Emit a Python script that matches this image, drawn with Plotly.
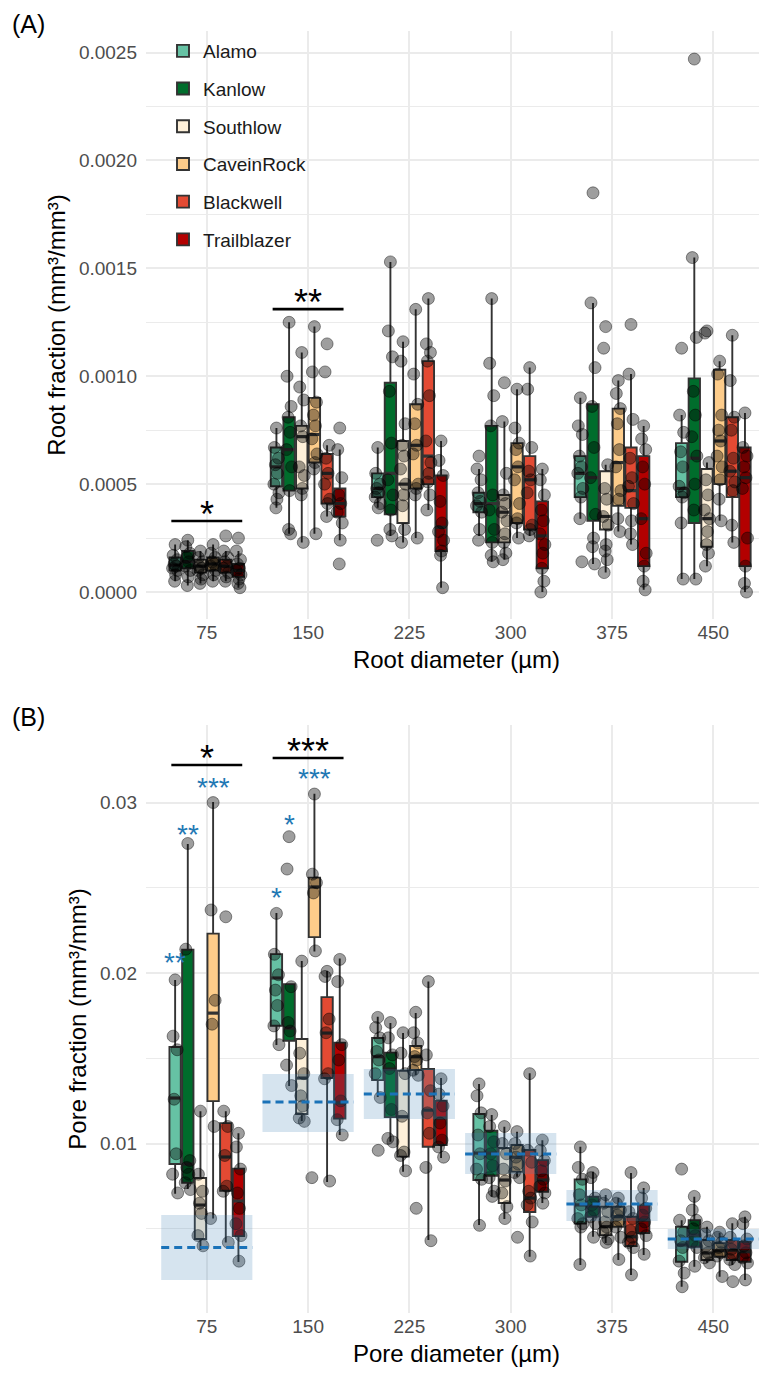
import plotly.graph_objects as go

# ---------------- data ----------------
cultivars = ["Alamo", "Kanlow", "Southlow", "CaveinRock", "Blackwell", "Trailblazer"]
colors = ["#66c2a4", "#006d2c", "#fef0d9", "#fdcc8a", "#e34a33", "#b30000"]
diam_labels = ["75", "150", "225", "300", "375", "450"]

# Panel A: root fraction box statistics [cultivar][diameter]
root_q1 = [
    [0.00010, 0.00049, 0.00044, 0.00037, 0.00044, 0.00044],
    [0.00011, 0.00047, 0.00036, 0.00023, 0.00033, 0.00032],
    [0.00009, 0.00048, 0.00032, 0.00023, 0.00029, 0.00021],
    [0.00010, 0.00060, 0.00048, 0.00032, 0.00040, 0.00050],
    [0.00009, 0.00041, 0.00050, 0.00029, 0.00039, 0.00044],
    [0.00007, 0.00035, 0.00019, 0.00011, 0.00012, 0.00012],
]
root_med = [
    [0.000125, 0.00058, 0.00048, 0.00041, 0.00055, 0.00048],
    [0.00014, 0.00066, 0.00055, 0.00041, 0.00053, 0.00062],
    [0.00012, 0.00072, 0.00050, 0.00037, 0.00035, 0.00034],
    [0.00013, 0.00073, 0.00068, 0.00058, 0.00060, 0.00070],
    [0.00012, 0.00055, 0.00063, 0.00052, 0.00047, 0.00056],
    [0.00010, 0.00041, 0.00030, 0.00026, 0.00034, 0.00053],
]
root_q3 = [
    [0.00016, 0.00067, 0.00055, 0.00046, 0.00063, 0.00069],
    [0.00019, 0.00081, 0.00097, 0.00077, 0.00087, 0.00099],
    [0.00015, 0.00077, 0.00070, 0.00045, 0.00056, 0.00057],
    [0.00016, 0.00090, 0.00087, 0.00069, 0.00085, 0.00103],
    [0.00015, 0.00064, 0.00107, 0.00063, 0.00067, 0.00081],
    [0.00013, 0.00048, 0.00054, 0.00042, 0.00063, 0.00067],
]
root_lo = [
    [0.00005, 0.00039, 0.00039, 0.00026, 0.00034, 0.00006],
    [0.00003, 0.00027, 0.00026, 0.00014, 0.00013, 0.00006],
    [0.00004, 0.00023, 0.00023, 0.00015, 0.00009, 0.00012],
    [0.00005, 0.00027, 0.00025, 0.00025, 0.00028, 0.00033],
    [0.00005, 0.00035, 0.00038, 0.00026, 0.00022, 0.00023],
    [0.00002, 0.00024, 0.00002, 0.00000, 0.00001, 0.00000],
]
root_hi = [
    [0.00022, 0.00076, 0.00067, 0.00057, 0.00090, 0.00082],
    [0.00024, 0.00125, 0.00153, 0.00136, 0.00134, 0.00155],
    [0.00019, 0.00111, 0.00116, 0.00079, 0.00059, 0.00060],
    [0.00022, 0.00123, 0.00131, 0.00094, 0.00098, 0.00107],
    [0.00019, 0.00068, 0.00136, 0.00104, 0.00101, 0.00119],
    [0.00019, 0.00066, 0.00070, 0.00057, 0.00077, 0.00083],
]
root_points = [
    [  # Alamo
        [0.00022, 0.00017, 0.00015, 0.00013, 0.00012, 0.00011, 0.00010, 0.00008, 0.00005],
        [0.00076, 0.00067, 0.00062, 0.00059, 0.00055, 0.00050, 0.00046, 0.00043, 0.00039],
        [0.00067, 0.00055, 0.00050, 0.00048, 0.00046, 0.00044, 0.00041, 0.00039, 0.00024],
        [0.00063, 0.00057, 0.00052, 0.00046, 0.00042, 0.00040, 0.00037, 0.00029, 0.00024],
        [0.00090, 0.00077, 0.00073, 0.00063, 0.00058, 0.00055, 0.00048, 0.00044, 0.00034, 0.00014],
        [0.00113, 0.00082, 0.00074, 0.00065, 0.00058, 0.00049, 0.00046, 0.00044, 0.00032, 0.00006],
    ],
    [  # Kanlow
        [0.00024, 0.00021, 0.00018, 0.00016, 0.00014, 0.00012, 0.00010, 0.00007, 0.00003],
        [0.00125, 0.00100, 0.00086, 0.00081, 0.00074, 0.00066, 0.00058, 0.00047, 0.00029, 0.00027],
        [0.00153, 0.00121, 0.00109, 0.00093, 0.00069, 0.00052, 0.00045, 0.00038, 0.00029, 0.00026],
        [0.00136, 0.00106, 0.00091, 0.00077, 0.00045, 0.00038, 0.00029, 0.00023, 0.00017, 0.00014],
        [0.00185, 0.00134, 0.00104, 0.00086, 0.00067, 0.00053, 0.00036, 0.00025, 0.00021, 0.00013],
        [0.00247, 0.00155, 0.00118, 0.00093, 0.00082, 0.00072, 0.00063, 0.00050, 0.00038, 0.00006],
    ],
    [  # Southlow
        [0.00019, 0.00016, 0.00014, 0.00012, 0.00011, 0.00010, 0.00008, 0.00006, 0.00004],
        [0.00111, 0.00095, 0.00089, 0.00077, 0.00072, 0.00058, 0.00054, 0.00048, 0.00045, 0.00023],
        [0.00116, 0.00107, 0.00078, 0.00068, 0.00063, 0.00057, 0.00050, 0.00045, 0.00040, 0.00029, 0.00023],
        [0.00097, 0.00079, 0.00055, 0.00045, 0.00041, 0.00037, 0.00033, 0.00027, 0.00023, 0.00018, 0.00015],
        [0.00123, 0.00113, 0.00059, 0.00048, 0.00043, 0.00035, 0.00031, 0.00022, 0.00019, 0.00015, 0.00009],
        [0.00121, 0.00120, 0.00060, 0.00052, 0.00045, 0.00038, 0.00034, 0.00028, 0.00022, 0.00018, 0.00012],
    ],
    [  # CaveinRock
        [0.00022, 0.00018, 0.00016, 0.00014, 0.00013, 0.00012, 0.00010, 0.00008, 0.00005],
        [0.00123, 0.00102, 0.00088, 0.00082, 0.00077, 0.00071, 0.00064, 0.00060, 0.00057, 0.00027],
        [0.00131, 0.00101, 0.00087, 0.00078, 0.00068, 0.00064, 0.00050, 0.00048, 0.00045, 0.00025],
        [0.00094, 0.00076, 0.00069, 0.00066, 0.00058, 0.00052, 0.00041, 0.00034, 0.00032, 0.00025],
        [0.00098, 0.00092, 0.00085, 0.00078, 0.00066, 0.00058, 0.00047, 0.00043, 0.00034, 0.00028],
        [0.00107, 0.00101, 0.00082, 0.00075, 0.00070, 0.00063, 0.00058, 0.00052, 0.00043, 0.00033],
    ],
    [  # Blackwell
        [0.00026, 0.00019, 0.00016, 0.00014, 0.00012, 0.00011, 0.00009, 0.00007, 0.00005],
        [0.00115, 0.00102, 0.00068, 0.00062, 0.00055, 0.00050, 0.00043, 0.00041, 0.00035],
        [0.00136, 0.00115, 0.00111, 0.00107, 0.00091, 0.00070, 0.00060, 0.00055, 0.00051, 0.00045, 0.00038],
        [0.00104, 0.00094, 0.00067, 0.00056, 0.00052, 0.00046, 0.00031, 0.00029, 0.00026],
        [0.00124, 0.00101, 0.00080, 0.00062, 0.00053, 0.00049, 0.00041, 0.00033, 0.00027, 0.00022],
        [0.00119, 0.00098, 0.00081, 0.00075, 0.00062, 0.00056, 0.00051, 0.00047, 0.00031, 0.00023],
    ],
    [  # Trailblazer
        [0.00025, 0.00019, 0.00015, 0.00013, 0.00011, 0.00010, 0.00008, 0.00006, 0.00004, 0.00002],
        [0.00076, 0.00066, 0.00053, 0.00045, 0.00041, 0.00037, 0.00032, 0.00024, 0.00013],
        [0.00070, 0.00061, 0.00054, 0.00042, 0.00032, 0.00028, 0.00024, 0.00019, 0.00017, 0.00002],
        [0.00057, 0.00052, 0.00045, 0.00038, 0.00033, 0.00027, 0.00022, 0.00018, 0.00011, 0.00005, 0.0],
        [0.00077, 0.00071, 0.00066, 0.00058, 0.00050, 0.00034, 0.00018, 0.00012, 0.00005, 0.00001],
        [0.00083, 0.00067, 0.00063, 0.00058, 0.00053, 0.00048, 0.00025, 0.00012, 0.00004, 0.0],
    ],
]

# Panel B: pore fraction box statistics [cultivar][diameter]
pore_q1 = [
    [0.00880, 0.01691, 0.01372, 0.00786, 0.00530, 0.00307],
    [0.00770, 0.01603, 0.01155, 0.00811, 0.00571, 0.00395],
    [0.00440, 0.01173, 0.00923, 0.00651, 0.00463, 0.00317],
    [0.01249, 0.02211, 0.01431, 0.00835, 0.00512, 0.00336],
    [0.00723, 0.01384, 0.00981, 0.00598, 0.00399, 0.00317],
    [0.00457, 0.01146, 0.00991, 0.00717, 0.00475, 0.00307],
]
pore_med = [
    [0.01267, 0.01971, 0.01509, 0.00944, 0.00640, 0.00405],
    [0.00880, 0.01677, 0.01437, 0.00944, 0.00633, 0.00463],
    [0.00639, 0.01384, 0.01157, 0.00786, 0.00512, 0.00358],
    [0.01765, 0.02505, 0.01509, 0.00920, 0.00571, 0.00371],
    [0.00921, 0.01648, 0.01196, 0.00680, 0.00453, 0.00375],
    [0.00663, 0.01238, 0.01150, 0.00786, 0.00551, 0.00365],
]
pore_q3 = [
    [0.01566, 0.02111, 0.01619, 0.01173, 0.00790, 0.00512],
    [0.02137, 0.01935, 0.01533, 0.01075, 0.00688, 0.00551],
    [0.00798, 0.01613, 0.01427, 0.00974, 0.00629, 0.00434],
    [0.02231, 0.02560, 0.01572, 0.00991, 0.00629, 0.00416],
    [0.01120, 0.01859, 0.01437, 0.00962, 0.00571, 0.00434],
    [0.00853, 0.01592, 0.01251, 0.00903, 0.00639, 0.00424],
]
pore_lo = [
    [0.00706, 0.01578, 0.01273, 0.00522, 0.00287, 0.00160],
    [0.00733, 0.01337, 0.01011, 0.00688, 0.00453, 0.00277],
    [0.00375, 0.01132, 0.00835, 0.00557, 0.00416, 0.00301],
    [0.00560, 0.02127, 0.01402, 0.00805, 0.00317, 0.00219],
    [0.00420, 0.00775, 0.00434, 0.00336, 0.00229, 0.00288],
    [0.00305, 0.01050, 0.00915, 0.00651, 0.00346, 0.00200],
]
pore_hi = [
    [0.01959, 0.02352, 0.01744, 0.01349, 0.00981, 0.00550],
    [0.02757, 0.01935, 0.01707, 0.01167, 0.00835, 0.00688],
    [0.01190, 0.02070, 0.01648, 0.01099, 0.00698, 0.00512],
    [0.03003, 0.03052, 0.01765, 0.01069, 0.00680, 0.00477],
    [0.01190, 0.02012, 0.01950, 0.01413, 0.00827, 0.00533],
    [0.01060, 0.02085, 0.01384, 0.01020, 0.00739, 0.00571],
]
pore_points = [
    [  # Alamo
        [0.0196, 0.0163, 0.0155, 0.0126, 0.0094, 0.0082, 0.0071],
        [0.0235, 0.0211, 0.0199, 0.0190, 0.0181, 0.0169, 0.0158],
        [0.0174, 0.0168, 0.0162, 0.0154, 0.0149, 0.0141, 0.0127, 0.0096],
        [0.0135, 0.0128, 0.0118, 0.0105, 0.0094, 0.0085, 0.0079, 0.0052],
        [0.0098, 0.0086, 0.0079, 0.0070, 0.0064, 0.0056, 0.0053, 0.0051, 0.0029],
        [0.0085, 0.0055, 0.0048, 0.0043, 0.0039, 0.0031, 0.0024, 0.0016],
    ],
    [  # Kanlow
        [0.0276, 0.0214, 0.0090, 0.0086, 0.0082, 0.0077, 0.0073],
        [0.0280, 0.0261, 0.0192, 0.0171, 0.0166, 0.0146, 0.0134],
        [0.0171, 0.0162, 0.0152, 0.0144, 0.0120, 0.0103, 0.0101],
        [0.0117, 0.0110, 0.0101, 0.0094, 0.0087, 0.0080, 0.0072, 0.0069],
        [0.0083, 0.0080, 0.0068, 0.0064, 0.0061, 0.0057, 0.0053, 0.0045],
        [0.0069, 0.0061, 0.0055, 0.0050, 0.0046, 0.0042, 0.0039, 0.0028],
    ],
    [  # Southlow
        [0.0119, 0.0082, 0.0072, 0.0065, 0.0059, 0.0046, 0.0040],
        [0.0207, 0.0153, 0.0141, 0.0128, 0.0122, 0.0115, 0.0113],
        [0.0165, 0.0153, 0.0141, 0.0116, 0.0095, 0.0093, 0.0084],
        [0.0110, 0.0100, 0.0094, 0.0085, 0.0078, 0.0071, 0.0063, 0.0056],
        [0.0070, 0.0065, 0.0060, 0.0054, 0.0051, 0.0048, 0.0044, 0.0042],
        [0.0051, 0.0047, 0.0043, 0.0040, 0.0036, 0.0033, 0.0030],
    ],
    [  # CaveinRock
        [0.0300, 0.0237, 0.0184, 0.0170, 0.0110, 0.0056],
        [0.0305, 0.0258, 0.0253, 0.0247, 0.0213, 0.0080],
        [0.0177, 0.0165, 0.0159, 0.0151, 0.0149, 0.0143, 0.0140, 0.0062],
        [0.0107, 0.0100, 0.0096, 0.0092, 0.0088, 0.0083, 0.0080, 0.0045],
        [0.0068, 0.0065, 0.0061, 0.0058, 0.0055, 0.0051, 0.0045, 0.0032],
        [0.0048, 0.0045, 0.0042, 0.0039, 0.0036, 0.0034, 0.0022],
    ],
    [  # Blackwell
        [0.0233, 0.0119, 0.0110, 0.0093, 0.0075, 0.0072, 0.0042],
        [0.0201, 0.0198, 0.0173, 0.0165, 0.0141, 0.0138, 0.0078],
        [0.0195, 0.0152, 0.0131, 0.0118, 0.0106, 0.0086, 0.0043],
        [0.0141, 0.0096, 0.0089, 0.0072, 0.0068, 0.0064, 0.0054, 0.0034],
        [0.0083, 0.0060, 0.0056, 0.0049, 0.0045, 0.0042, 0.0039, 0.0023],
        [0.0053, 0.0045, 0.0041, 0.0038, 0.0035, 0.0032, 0.0029, 0.0019],
    ],
    [  # Trailblazer
        [0.0106, 0.0098, 0.0085, 0.0071, 0.0062, 0.0053, 0.0046, 0.0031],
        [0.0208, 0.0195, 0.0158, 0.0149, 0.0125, 0.0114, 0.0105],
        [0.0138, 0.0129, 0.0122, 0.0112, 0.0102, 0.0098, 0.0092],
        [0.0102, 0.0096, 0.0090, 0.0084, 0.0079, 0.0075, 0.0071, 0.0065],
        [0.0074, 0.0068, 0.0062, 0.0058, 0.0054, 0.0050, 0.0046, 0.0035],
        [0.0057, 0.0053, 0.0044, 0.0040, 0.0036, 0.0033, 0.0030, 0.0020],
    ],
]

# Panel B reference band (mean with range) per pore diameter
pore_ref_mean = [0.00390, 0.01243, 0.01290, 0.00938, 0.00645, 0.00440]
pore_ref_lo = [0.00200, 0.01067, 0.01144, 0.00821, 0.00545, 0.00382]
pore_ref_hi = [0.00581, 0.01408, 0.01437, 0.01062, 0.00727, 0.00499]

# Group significance brackets
root_sig_group = [0, 1]
root_sig_y = [0.000329, 0.001311]
root_sig_text = ["*", "**"]
pore_sig_group = [0, 1]
pore_sig_y = [0.0322, 0.03261]
pore_sig_text = ["*", "***"]

# Cultivar-level significance (blue) in panel B: (diameter index, cultivar index)
pore_cv_group = [0, 0, 0, 1, 1, 1]
pore_cv_cult = [0, 1, 3, 0, 1, 3]
pore_cv_y = [0.02106, 0.02856, 0.03132, 0.02487, 0.02915, 0.03185]
pore_cv_text = ["**", "**", "***", "*", "*", "***"]

root_ticks = [0.0, 0.0005, 0.0010, 0.0015, 0.0020, 0.0025]
root_ticktext = ["0.0000", "0.0005", "0.0010", "0.0015", "0.0020", "0.0025"]
root_minor = [0.00025, 0.00075, 0.00125, 0.00175, 0.00225]
pore_ticks = [0.01, 0.02, 0.03]
pore_ticktext = ["0.01", "0.02", "0.03"]
pore_minor = [0.005, 0.015, 0.025]

# ---------------- figure ----------------
OFF = 8                      # page body margin of the rendered html
W, H = 767 - OFF, 1373 - OFF
FONT = "Liberation Sans, Arial, sans-serif"
DODGE = 0.125
BOXW = 0.112
JIT = [0.0, -0.02, 0.02, -0.01, 0.01, -0.025, 0.025, 0.005, -0.005, 0.015, -0.015]


def xp(p):
    return (p - OFF) / W


def yp(p):
    return 1 - (p - OFF) / H


def xpos(g, k):
    return g + (k - 2.5) * DODGE


fig = go.Figure()

panels = [
    ("x", "y", root_q1, root_med, root_q3, root_lo, root_hi, root_points, True),
    ("x2", "y2", pore_q1, pore_med, pore_q3, pore_lo, pore_hi, pore_points, False),
]
for xa, ya, q1, med, q3, lo, hi, pts, show in panels:
    for k, cv in enumerate(cultivars):
        fig.add_trace(go.Box(
            x=[xpos(g, k) for g in range(6)],
            q1=q1[k], median=med[k], q3=q3[k],
            lowerfence=lo[k], upperfence=hi[k],
            width=BOXW, whiskerwidth=0,
            fillcolor=colors[k],
            line=dict(color="#333333", width=1.9),
            name=cv, legendgroup=cv, showlegend=show,
            xaxis=xa, yaxis=ya, hoverinfo="skip",
        ))
    # thicker median bars (ggplot style)
    mx, my = [], []
    for k in range(6):
        for g in range(6):
            c = xpos(g, k)
            mx += [c - BOXW / 2, c + BOXW / 2, None]
            my += [med[k][g], med[k][g], None]
    fig.add_trace(go.Scatter(x=mx, y=my, mode="lines", showlegend=False, hoverinfo="skip",
                             line=dict(color="#333333", width=3.2), xaxis=xa, yaxis=ya))
    px_, py_ = [], []
    for k in range(6):
        for g in range(6):
            for i, v in enumerate(pts[k][g]):
                px_.append(xpos(g, k) + JIT[i % len(JIT)])
                py_.append(v)
    fig.add_trace(go.Scatter(
        x=px_, y=py_, mode="markers", showlegend=False, hoverinfo="skip",
        marker=dict(size=12, color="rgba(0,0,0,0.38)",
                    line=dict(color="rgba(0,0,0,0.42)", width=1)),
        xaxis=xa, yaxis=ya,
    ))

shapes = []
annotations = []
STAR_BLACK = 36
STAR_BLUE = 28
BLUE = "#1f78b4"


def black_star(g, yv, t, xr, yr):
    return dict(x=g, y=yv, xref=xr, yref=yr, text=t, showarrow=False,
                yanchor="bottom", height=20, valign="top", yshift=5,
                font=dict(size=STAR_BLACK, color="black", family=FONT))


for g, yv, t in zip(root_sig_group, root_sig_y, root_sig_text):
    shapes.append(dict(type="line", xref="x", yref="y", x0=g - 0.35, x1=g + 0.35,
                       y0=yv, y1=yv, line=dict(color="black", width=2.6), layer="above"))
    annotations.append(black_star(g, yv, t, "x", "y"))
for g, yv, t in zip(pore_sig_group, pore_sig_y, pore_sig_text):
    shapes.append(dict(type="line", xref="x2", yref="y2", x0=g - 0.35, x1=g + 0.35,
                       y0=yv, y1=yv, line=dict(color="black", width=2.6), layer="above"))
    annotations.append(black_star(g, yv, t, "x2", "y2"))
for g, k, yv, t in zip(pore_cv_group, pore_cv_cult, pore_cv_y, pore_cv_text):
    annotations.append(dict(x=xpos(g, k), y=yv, xref="x2", yref="y2", text=t,
                            showarrow=False, yanchor="top", height=16, valign="top",
                            yshift=9.8,
                            font=dict(size=STAR_BLUE, color=BLUE, family=FONT)))

for g in range(6):
    shapes.append(dict(type="rect", xref="x2", yref="y2", x0=g - 0.45, x1=g + 0.45,
                       y0=pore_ref_lo[g], y1=pore_ref_hi[g],
                       fillcolor="rgba(70,130,180,0.22)", line=dict(width=0), layer="above"))
    shapes.append(dict(type="line", xref="x2", yref="y2", x0=g - 0.45, x1=g + 0.45,
                       y0=pore_ref_mean[g], y1=pore_ref_mean[g],
                       line=dict(color="#1a72b8", width=3, dash="8px,5px"), layer="above"))

annotations.append(dict(x=xp(10), y=1.0, xref="paper", yref="paper", text="(A)",
                        showarrow=False, xanchor="left", yanchor="top",
                        font=dict(size=25, color="black", family=FONT)))
annotations.append(dict(x=xp(10), y=yp(717), xref="paper", yref="paper", text="(B)",
                        showarrow=False, xanchor="left", yanchor="middle",
                        font=dict(size=25, color="black", family=FONT)))

xdom = [xp(146), 1.0]
common_x = dict(domain=xdom, range=[-0.6, 5.53], tickmode="array", tickvals=list(range(6)),
                ticktext=diam_labels, showgrid=True, gridcolor="#ebebeb", gridwidth=1.6,
                zeroline=False, showline=False, ticks="",
                tickfont=dict(size=19, color="#4d4d4d", family=FONT))
common_y = dict(tickmode="array", showgrid=True, gridcolor="#ebebeb", gridwidth=1.6,
                zeroline=False, showline=False, ticks="", ticklabelstandoff=8,
                tickfont=dict(size=19, color="#4d4d4d", family=FONT))

fig.update_layout(
    width=W, height=H,
    margin=dict(l=0, r=0, t=0, b=0),
    paper_bgcolor="white", plot_bgcolor="white",
    font=dict(family=FONT, color="black"),
    boxmode="overlay",
    xaxis=dict(**common_x, anchor="y",
               title=dict(text="Root diameter (µm)", font=dict(size=24, color="black"), standoff=9)),
    yaxis=dict(**common_y, anchor="x", domain=[yp(619), yp(31)],
               range=[-0.000125, 0.0026], tickvals=root_ticks, ticktext=root_ticktext,
               minor=dict(tickvals=root_minor, showgrid=True, gridcolor="#ebebeb", gridwidth=1.1),
               title=dict(text="Root fraction (mm³/mm³)", font=dict(size=24, color="black"), standoff=6)),
    xaxis2=dict(**common_x, anchor="y2",
                title=dict(text="Pore diameter (µm)", font=dict(size=24, color="black"), standoff=9)),
    yaxis2=dict(**common_y, anchor="x2", domain=[yp(1313), yp(725)],
                range=[0.00006, 0.03455], tickvals=pore_ticks, ticktext=pore_ticktext,
                minor=dict(tickvals=pore_minor, showgrid=True, gridcolor="#ebebeb", gridwidth=1.1),
                title=dict(text="Pore fraction (mm³/mm³)", font=dict(size=24, color="black"), standoff=6)),
    legend=dict(x=xp(163), y=yp(32), xanchor="left", yanchor="top",
                bgcolor="rgba(255,255,255,0)", font=dict(size=19, color="#1a1a1a", family=FONT),
                tracegroupgap=10, traceorder="grouped"),
    shapes=shapes,
    annotations=annotations,
)

fig.write_html("out.html")
